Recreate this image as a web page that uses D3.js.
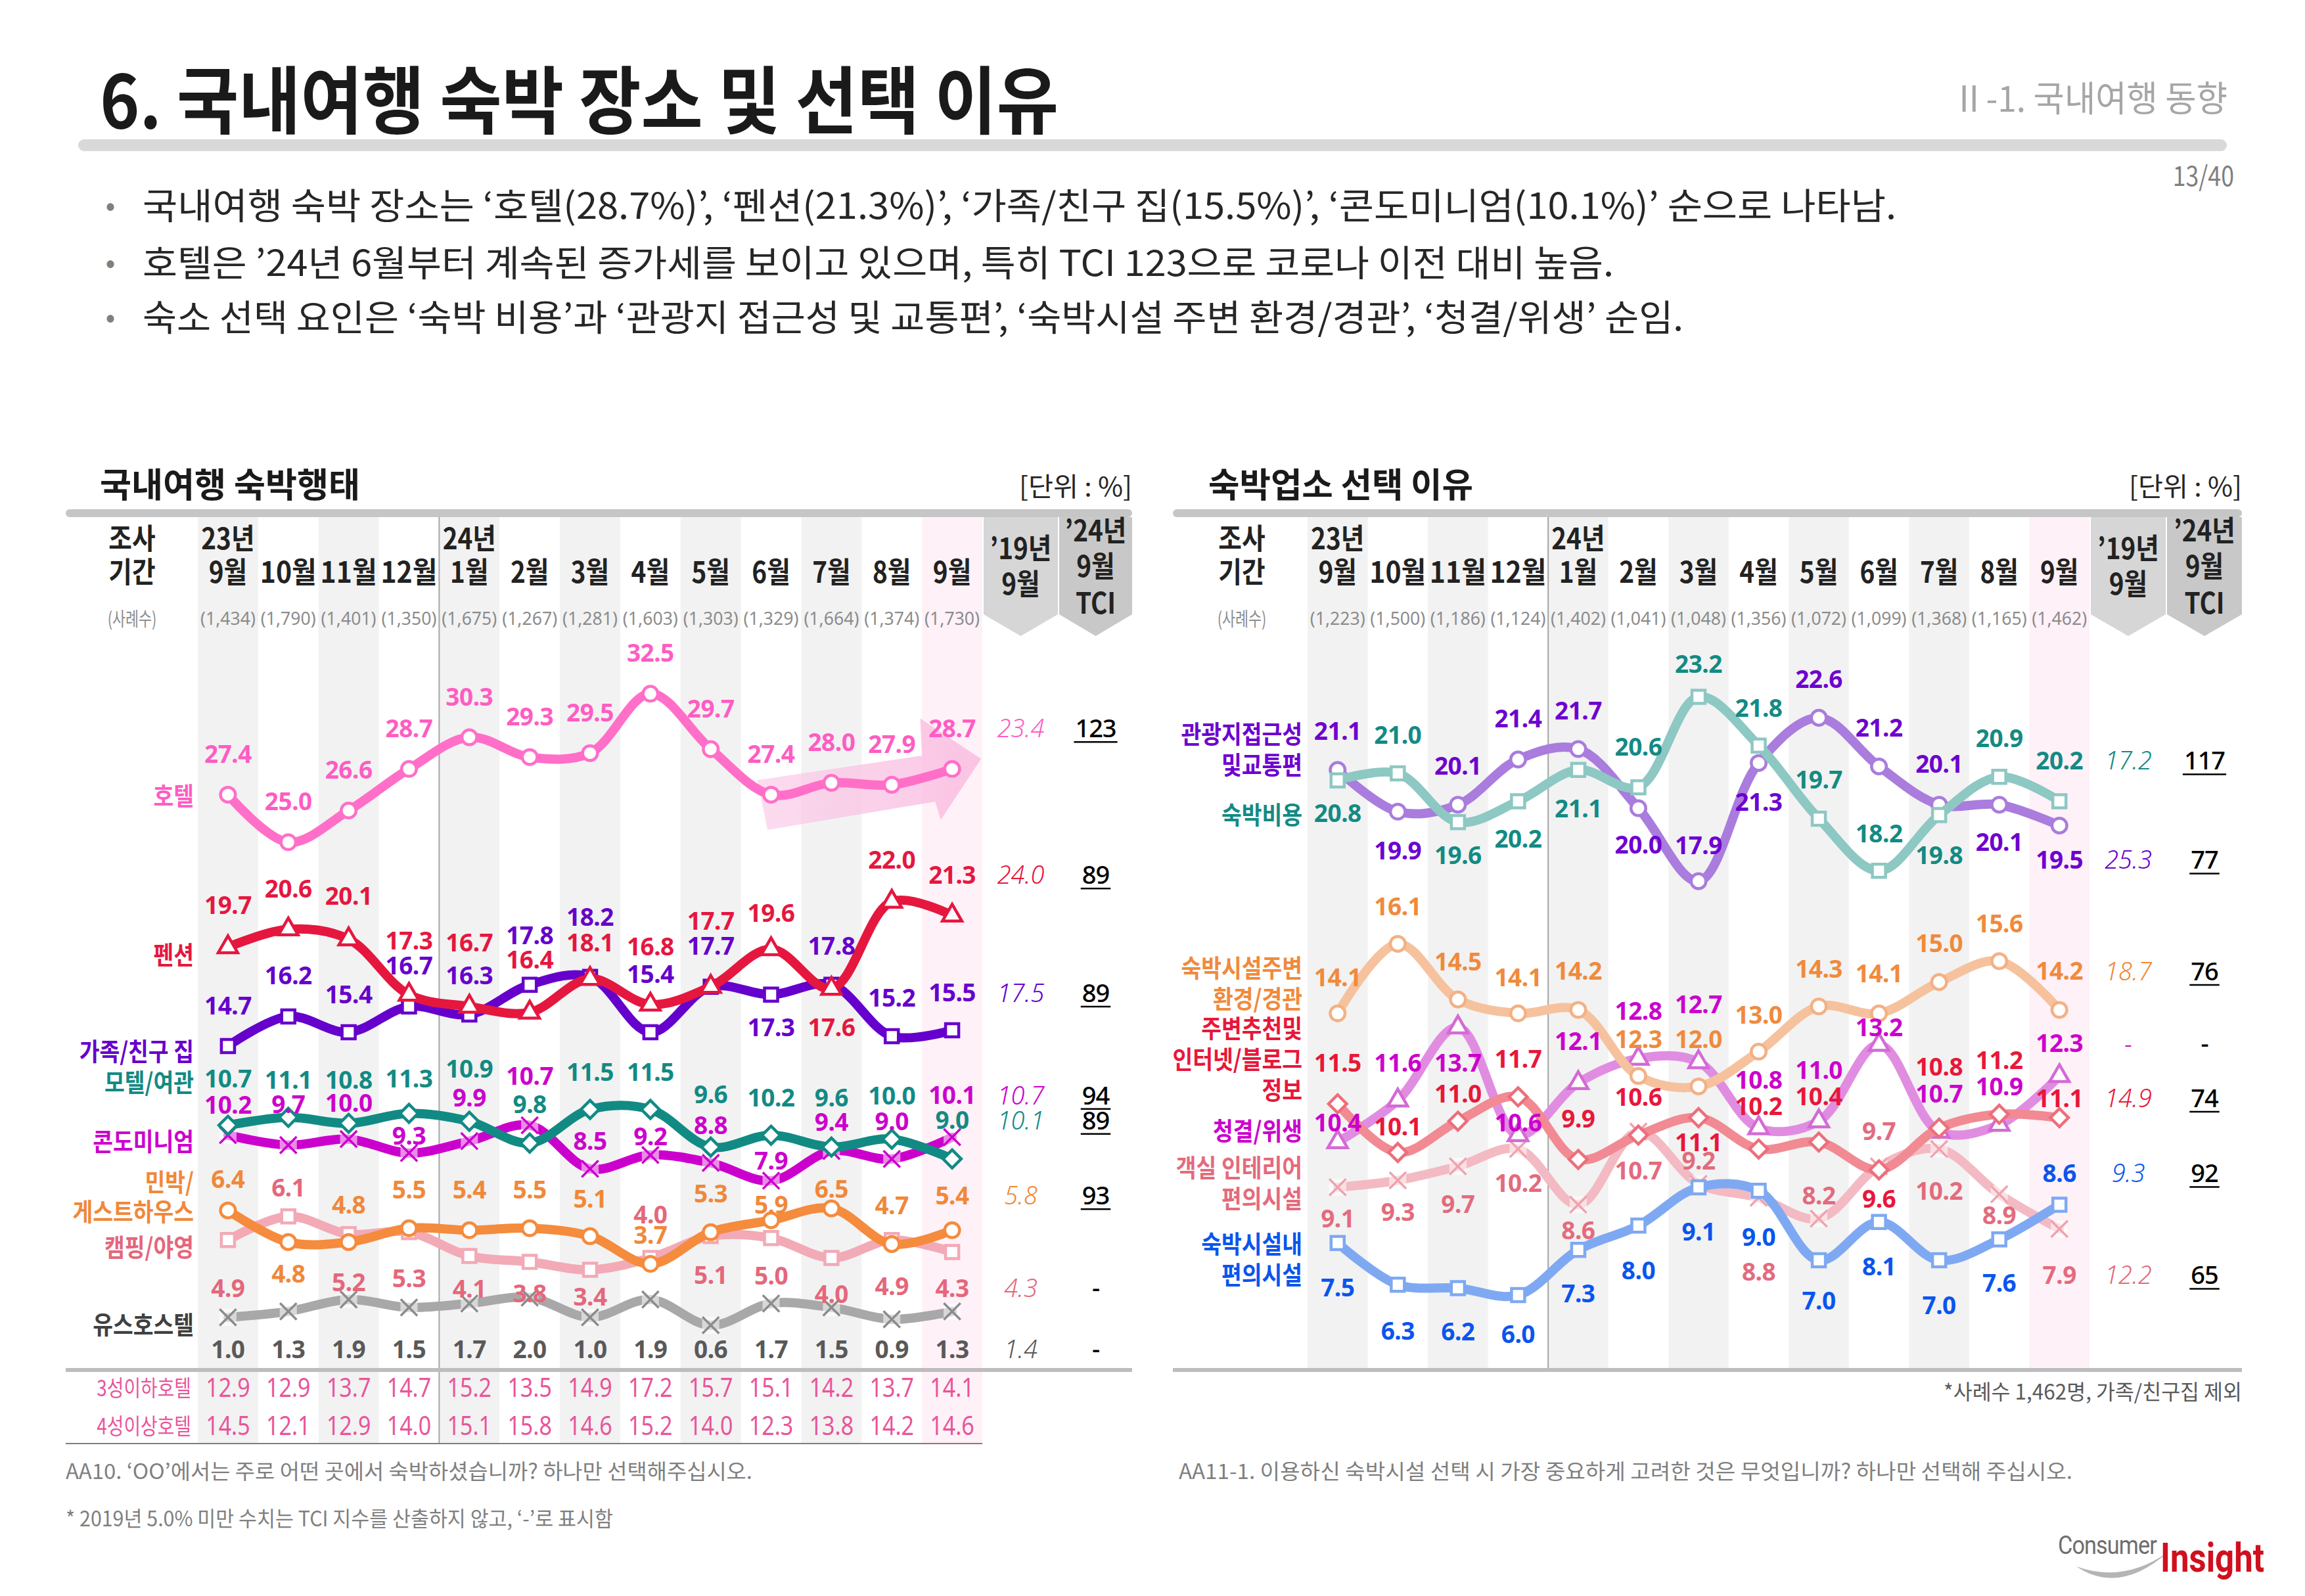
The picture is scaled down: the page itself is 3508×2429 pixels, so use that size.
<!DOCTYPE html>
<html><head><meta charset="utf-8">
<script src="https://cdn.jsdelivr.net/npm/d3@7"></script>
<style>html,body{margin:0;padding:0;background:#fff}svg{display:block}</style>
</head><body>
<svg id="c" width="3508" height="2429"></svg>
<script>
// ---------------- DATA ----------------
const months = ["9월","10월","11월","12월","1월","2월","3월","4월","5월","6월","7월","8월","9월"];
const yearLabels = ["23년","24년"];
const yearIdx = [0,4];
const nLeft  = ["(1,434)","(1,790)","(1,401)","(1,350)","(1,675)","(1,267)","(1,281)","(1,603)","(1,303)","(1,329)","(1,664)","(1,374)","(1,730)"];
const nRight = ["(1,223)","(1,500)","(1,186)","(1,124)","(1,402)","(1,041)","(1,048)","(1,356)","(1,072)","(1,099)","(1,368)","(1,165)","(1,462)"];

// 국내여행 숙박행태 (%)
const hotel    = [27.4,25.0,26.6,28.7,30.3,29.3,29.5,32.5,29.7,27.4,28.0,27.9,28.7];
const pension  = [19.7,20.6,20.1,17.3,16.7,16.4,18.1,16.8,17.7,19.6,17.6,22.0,21.3];
const family   = [14.7,16.2,15.4,16.7,16.3,17.8,18.2,15.4,17.7,17.3,17.8,15.2,15.5];
const motel    = [10.7,11.1,10.8,11.3,10.9,9.8,11.5,11.5,9.6,10.2,9.6,10.0,9.0];
const condo    = [10.2,9.7,10.0,9.3,9.9,10.7,8.5,9.2,8.8,7.9,9.4,9.0,10.1];
const minbak   = [6.4,4.8,4.8,5.5,5.4,5.5,5.1,3.7,5.3,5.9,6.5,4.7,5.4];
const camping  = [4.9,6.1,5.2,5.3,4.1,3.8,3.4,4.0,5.1,5.0,4.0,4.9,4.3];
const youth    = [1.0,1.3,1.9,1.5,1.7,2.0,1.0,1.9,0.6,1.7,1.5,0.9,1.3];
const leftNames = ["호텔","펜션","가족/친구 집","모텔/여관","콘도미니엄","민박/\n게스트하우스","캠핑/야영","유스호스텔"];
const left19  = ["23.4","24.0","17.5","10.1","10.7","5.8","4.3","1.4"];
const leftTCI = ["123","89","89","89","94","93","-","-"];
const hotel3  = [12.9,12.9,13.7,14.7,15.2,13.5,14.9,17.2,15.7,15.1,14.2,13.7,14.1];
const hotel4  = [14.5,12.1,12.9,14.0,15.1,15.8,14.6,15.2,14.0,12.3,13.8,14.2,14.6];
const hotelRows = ["3성이하호텔","4성이상호텔"];

// 숙박업소 선택 이유 (%)
const access   = [21.1,19.9,20.1,21.4,21.7,20.0,17.9,21.3,22.6,21.2,20.1,20.1,19.5];
const cost     = [20.8,21.0,19.6,20.2,21.1,20.6,23.2,21.8,19.7,18.2,19.8,20.9,20.2];
const scenery  = [14.1,16.1,14.5,14.1,14.2,12.3,12.0,13.0,14.3,14.1,15.0,15.6,14.2];
const recommend= [11.5,10.1,11.0,11.7,9.9,10.6,11.1,10.2,10.4,9.6,10.8,11.2,11.1];
const clean    = [10.4,11.6,13.7,10.6,12.1,12.8,12.7,10.8,11.0,13.2,10.7,10.9,12.3];
const interior = [9.1,9.3,9.7,10.2,8.6,10.7,9.2,8.8,8.2,9.7,10.2,8.9,7.9];
const amenity  = [7.5,6.3,6.2,6.0,7.3,8.0,9.1,9.0,7.0,8.1,7.0,7.6,8.6];
const rightNames = ["관광지접근성\n및교통편","숙박비용","숙박시설주변\n환경/경관","주변추천및\n인터넷/블로그\n정보","청결/위생","객실 인테리어\n편의시설","숙박시설내\n편의시설"];
const right19  = ["25.3","17.2","18.7","14.9","-","12.2","9.3"];
const rightTCI = ["77","117","76","74","-","65","92"];

// ---------------- LAYOUT / STYLE ----------------
const KR = '"Noto Sans CJK KR","Noto Sans",sans-serif';
const NUM = '"Noto Sans","Noto Sans CJK KR",sans-serif';
const svg = d3.select("#c");

function txt(g,x,y,s,o={}){
  const t=g.append("text").attr("x",x).attr("y",y).text(s)
    .attr("font-family",o.ff||KR).attr("font-size",o.fs||40).attr("font-weight",o.fw||400)
    .attr("fill",o.fill||"#222").attr("text-anchor",o.anchor||"start")
    .attr("dominant-baseline","central");
  if(o.italic) t.attr("font-style","italic");
  if(o.ls) t.attr("letter-spacing",o.ls);
  if(o.len){ t.attr("textLength",o.len).attr("lengthAdjust","spacingAndGlyphs"); }
  else if(o.cond){ const L=t.node().getComputedTextLength(); t.attr("textLength",L*o.cond).attr("lengthAdjust","spacingAndGlyphs"); }
  return t;
}

// ---- page header ----
txt(svg,152,146,"6. 국내여행 숙박 장소 및 선택 이유",{fs:112,fw:700,fill:"#1a1a1a",len:1459});
txt(svg,3390,146,"Ⅱ-1. 국내여행 동향",{fs:54,fill:"#A6A6A6",anchor:"end",len:419});
svg.append("rect").attr("x",119).attr("y",212).attr("width",3270).attr("height",18).attr("rx",9).attr("fill","#D9D9D9");
txt(svg,3400,264,"13/40",{fs:42,fill:"#7F7F7F",anchor:"end",cond:0.85});
const bullets = [
 ["국내여행 숙박 장소는 ‘호텔(28.7%)’, ‘펜션(21.3%)’, ‘가족/친구 집(15.5%)’, ‘콘도미니엄(10.1%)’ 순으로 나타남.",2669],
 ["호텔은 ’24년 6월부터 계속된 증가세를 보이고 있으며, 특히 TCI 123으로 코로나 이전 대비 높음.",2239],
 ["숙소 선택 요인은 ‘숙박 비용’과 ‘관광지 접근성 및 교통편’, ‘숙박시설 주변 환경/경관’, ‘청결/위생’ 순임.",2345]];
const bulletY=[309,396,479];
bullets.forEach((b,i)=>{
  txt(svg,168,bulletY[i],"•",{fs:44,fill:"#7F7F7F",anchor:"middle"});
  txt(svg,217,bulletY[i],b[0],{fs:55,fill:"#262626",len:b[1]});
});

// ---- marker helper ----
function drawMarker(g,type,x,y,color){
  if(type==="x"){
    g.append("rect").attr("x",x-13).attr("y",y-13).attr("width",26).attr("height",26)
      .attr("fill","#fff").attr("opacity",0.55);
    const sym = d3.symbolX ? d3.symbolX : null;
    if(sym){
      g.append("path").attr("d",d3.symbol().type(sym).size(420)()).attr("transform",`translate(${x},${y})`)
        .attr("fill","none").attr("stroke",color).attr("stroke-width",3.5);
    }
    return;
  }
  let s, rot=0, size=390;
  if(type==="circle"){s=d3.symbolCircle;size=400;}
  else if(type==="square"){s=d3.symbolSquare;size=400;}
  else if(type==="triangle"){s=d3.symbolTriangle;size=380;}
  else if(type==="diamond"){s=d3.symbolSquare;rot=45;size=380;}
  g.append("path").attr("d",d3.symbol().type(s).size(size)())
    .attr("transform",`translate(${x},${y}) rotate(${rot})`)
    .attr("fill","#fff").attr("stroke",color).attr("stroke-width",4.5);
}

// ---- panel ----
function panel(cfg){
  const g=svg.append("g");
  const x=d3.scaleBand().domain(d3.range(13)).range([cfg.b0,cfg.b1]);
  const bw=x.bandwidth();
  const xc=i=>x(i)+bw/2;
  const y=d3.scaleLinear().domain(cfg.dom).range(cfg.rng);
  const top=787;
  // shaded bands
  g.selectAll("rect.band").data(d3.range(13).filter(i=>i%2===0)).join("rect")
    .attr("x",i=>x(i)).attr("y",top).attr("width",bw).attr("height",cfg.shadeBottom-top)
    .attr("fill",i=>i===12?"#FFF1F8":"#F2F2F2");
  // '19 and TCI header pentagons
  [[cfg.c19,"#D6D6D6"],[cfg.cT,"#C8C8C8"]].forEach(([c,f])=>{
    g.append("path").attr("d",`M${c[0]},${top}H${c[1]}V935L${(c[0]+c[1])/2},968L${c[0]},935Z`).attr("fill",f);
  });
  // header bar
  g.append("rect").attr("x",cfg.bar0).attr("y",775).attr("width",cfg.bar1-cfg.bar0).attr("height",12).attr("rx",6).attr("fill","#C6C6C6");
  // title + unit
  txt(g,cfg.titleX,734,cfg.title,{fs:52,fw:700,fill:"#1a1a1a",len:cfg.titleLen});
  txt(g,cfg.bar1,738,"[단위 : %]",{fs:40,fill:"#262626",anchor:"end",len:172});
  // divider
  g.append("line").attr("x1",x(4)).attr("x2",x(4)).attr("y1",top).attr("y2",cfg.divBottom)
    .attr("stroke","#A6A6A6").attr("stroke-width",2);
  // header texts
  txt(g,cfg.lblX,817,"조사",{fs:44,fw:700,anchor:"middle",cond:0.88});
  txt(g,cfg.lblX,868,"기간",{fs:44,fw:700,anchor:"middle",cond:0.88});
  txt(g,cfg.lblX,940,"(사례수)",{fs:29,fill:"#8C8C8C",anchor:"middle",cond:0.75});
  yearLabels.forEach((s,k)=>txt(g,xc(yearIdx[k]),817,s,{fs:44,fw:700,anchor:"middle",cond:0.88}));
  months.forEach((m,i)=>{
    const o={fs:44,fw:700,anchor:"middle"};
    if(m.length>2) o.len=86; else o.cond=0.88;
    txt(g,xc(i),868,m,o);
  });
  cfg.n.forEach((s,i)=>txt(g,xc(i),940,s,{ff:NUM,fs:28,fill:"#8C8C8C",anchor:"middle",len:84}));
  const m19=(cfg.c19[0]+cfg.c19[1])/2, mT=(cfg.cT[0]+cfg.cT[1])/2;
  txt(g,m19,832,"’19년",{fs:44,fw:700,anchor:"middle",cond:0.88});
  txt(g,m19,886,"9월",{fs:44,fw:700,anchor:"middle",cond:0.88});
  txt(g,mT,805,"’24년",{fs:44,fw:700,anchor:"middle",cond:0.88});
  txt(g,mT,859,"9월",{fs:44,fw:700,anchor:"middle",cond:0.88});
  txt(g,mT,915,"TCI",{fs:44,fw:700,anchor:"middle",cond:0.88});
  // bottom line
  g.append("rect").attr("x",cfg.bar0).attr("y",cfg.lineY-3).attr("width",cfg.bar1-cfg.bar0).attr("height",6).attr("fill","#BDBDBD");

  if(cfg.before) cfg.before(g,x,xc,y);

  const line=d3.line().x((d,i)=>xc(i)).y(d=>y(d)).curve(d3.curveCatmullRom.alpha(0.5));
  const lg=g.append("g"), labg=g.append("g");
  cfg.series.forEach(s=>{
    lg.append("path").attr("d",line(s.vals)).attr("fill","none").attr("stroke",s.line)
      .attr("stroke-width",14).attr("stroke-linejoin","round").attr("stroke-linecap","round")
      .attr("opacity",s.op||1);
    s.vals.forEach((v,i)=>drawMarker(lg,s.mk,xc(i),y(v),s.mkc||s.line));
  });
  cfg.series.forEach(s=>{
    let lastY=0;
    s.vals.forEach((v,i)=>{
      const ly = s.row!==undefined ? s.row : y(v)-s.off[i];
      lastY=ly;
      txt(labg,xc(i),ly,v.toFixed(1),{ff:NUM,fs:37,fw:700,fill:s.lab,anchor:"middle",ls:-0.5});
    });
    // '19 value and TCI
    txt(labg,m19,lastY,s.v19,{ff:NUM,fs:38,fw:300,italic:true,fill:s.lab,anchor:"middle"});
    const t=txt(labg,mT,lastY,s.tci,{ff:NUM,fs:38,fw:500,fill:"#000",anchor:"middle",ls:-1});
    if(s.tci!=="-"){
      const L=t.node().getComputedTextLength();
      labg.append("line").attr("x1",mT-L/2-2).attr("x2",mT+L/2+2).attr("y1",lastY+22).attr("y2",lastY+22)
        .attr("stroke","#000").attr("stroke-width",2.5);
    }
    // series name
    s.name.split("\n").forEach((nm,k)=>txt(labg,cfg.nameX,s.nameY[k],nm,{fs:38,fw:700,fill:s.nameCol||s.lab,anchor:"end",cond:0.88}));
  });
  if(cfg.after) cfg.after(g,x,xc,y);
}

// ---------- LEFT PANEL ----------
const hotelArrow=[[8.77,28.14],[11.50,29.37],[11.47,31.26],[12.48,29.21],[11.81,26.12],[11.72,27.05],[8.94,25.62]];
panel({
  b0:301,b1:1495,c19:[1497,1610],cT:[1612,1723],bar0:100,bar1:1723,
  dom:[0,32.5],rng:[2035,2035-30.13*32.5],
  shadeBottom:2197,divBottom:2197,lineY:2085,
  title:"국내여행 숙박행태",titleX:152,titleLen:396,lblX:201,nameX:295,n:nLeft,
  before:(g,x,xc,y)=>{
    const grad=svg.append("defs").append("linearGradient").attr("id","ag").attr("x1","0").attr("x2","1");
    grad.append("stop").attr("offset","0").attr("stop-color","#FBD0EA");
    grad.append("stop").attr("offset","1").attr("stop-color","#F9B4DC");
    g.append("path").attr("d",d3.line().x(d=>xc(0)+d[0]*x.step()).y(d=>y(d[1]))(hotelArrow)+"Z")
      .attr("fill","url(#ag)").attr("opacity",0.75);
  },
  series:[
    {name:leftNames[7],nameY:[2013],vals:youth,row:2052,v19:left19[7],tci:leftTCI[7],line:"#A8A8A8",lab:"#595959",nameCol:"#404040",mk:"x",mkc:"#8C8C8C"},
    {name:leftNames[6],nameY:[1895],vals:camping,off:[-72,45,-72,-69,-49,-47,-40,67,-58,-56,-54,-69,-54],v19:left19[6],tci:leftTCI[6],line:"#F2AAB6",lab:"#E4677B",mk:"square"},
    {name:leftNames[5],nameY:[1796,1841],vals:minbak,off:[49,-47,58,60,63,60,58,45,60,25,31,60,54],v19:left19[5],tci:leftTCI[5],line:"#F58B3D",lab:"#F0883A",mk:"circle"},
    {name:leftNames[4],nameY:[1734],vals:condo,off:[47,63,56,27,67,76,43,29,58,31,45,58,65],v19:left19[4],tci:leftTCI[4],line:"#CC00CC",lab:"#CC00CC",mk:"x"},
    {name:leftNames[3],nameY:[1644],vals:motel,off:[72,58,67,54,81,60,58,58,81,58,76,67,60],v19:left19[3],tci:leftTCI[3],line:"#128A84",lab:"#128A84",mk:"diamond"},
    {name:leftNames[2],nameY:[1597],vals:family,off:[63,63,58,63,60,76,92,89,63,-49,60,60,58],v19:left19[2],tci:leftTCI[2],line:"#6600CC",lab:"#6600CC",mk:"square"},
    {name:leftNames[1],nameY:[1450],vals:pension,off:[65,63,67,83,98,81,56,89,101,56,-58,65,63],v19:left19[1],tci:leftTCI[1],line:"#E5173F",lab:"#E5173F",mk:"triangle"},
    {name:leftNames[0],nameY:[1208],vals:hotel,off:Array(13).fill(63),v19:left19[0],tci:leftTCI[0],line:"#FF6FC8",lab:"#FF5CC3",mk:"circle"}
  ],
  after:(g,x,xc,y)=>{
    const rowY=[2110,2168];
    [hotel3,hotel4].forEach((arr,r)=>{
      txt(g,291,rowY[r],hotelRows[r],{fs:34,fill:"#E8559A",anchor:"end",cond:0.82});
      arr.forEach((v,i)=>txt(g,xc(i),rowY[r],v.toFixed(1),{ff:NUM,fs:40,fill:"#E8559A",anchor:"middle",cond:0.85}));
    });
    g.append("line").attr("x1",100).attr("x2",1495).attr("y1",2197).attr("y2",2197).attr("stroke","#7F7F7F").attr("stroke-width",2);
  }
});

// ---------- RIGHT PANEL ----------
panel({
  b0:1990,b1:3180,c19:[3182,3296],cT:[3298,3412],bar0:1785,bar1:3412,
  dom:[6,23.2],rng:[2288.6-52.93*6,2288.6-52.93*23.2],
  shadeBottom:2085,divBottom:2085,lineY:2085,
  title:"숙박업소 선택 이유",titleX:1839,titleLen:403,lblX:1890,nameX:1982,n:nRight,
  series:[
    {name:rightNames[5],nameY:[1774,1821],vals:interior,off:[-47,-47,-56,-51,-38,-58,36,-112,36,55,-63,-31,-69],v19:right19[5],tci:rightTCI[5],line:"#F3BAC3",lab:"#E36B7D",mk:"x",mkc:"#EFA3AE"},
    {name:rightNames[4],nameY:[1718],vals:clean,off:[31,58,-53,20,65,74,89,74,79,27,59,59,51],v19:right19[4],tci:rightTCI[4],line:"#E08DE1",lab:"#CC00CC",mk:"triangle",mkc:"#D46AD6"},
    {name:rightNames[3],nameY:[1562,1609,1656],vals:recommend,off:[63,41,43,59,63,59,-36,66,71,-43,94,83,31],v19:right19[3],tci:rightTCI[3],line:"#F18A93",lab:"#E8173A",mk:"diamond",mkc:"#EC6F7B"},
    {name:rightNames[2],nameY:[1470,1517],vals:scenery,off:[56,58,59,56,60,57,73,57,58,62,60,58,60],v19:right19[2],tci:rightTCI[2],line:"#F6C29D",lab:"#F08A3C",mk:"circle",mkc:"#F3B185"},
    {name:rightNames[6],nameY:[1890,1937],vals:amenity,off:[-67,-69,-65,-58,-65,-67,-67,-69,-60,-67,-67,-65,49],v19:right19[6],tci:rightTCI[6],line:"#7EA9F2",lab:"#0A55EE",mk:"square"},
    {name:rightNames[0],nameY:[1114,1161],vals:access,off:[60,-58,60,63,60,-54,56,-58,60,60,63,-56,-51],v19:right19[0],tci:rightTCI[0],line:"#A97CDD",lab:"#6E00D0",mk:"circle"},
    {name:rightNames[1],nameY:[1237],vals:cost,off:[-49,60,-49,-56,-58,63,51,58,60,58,-60,60,63],v19:right19[1],tci:rightTCI[1],line:"#8DC8C3",lab:"#138A84",mk:"square"}
  ]
});

// ---- footnotes ----
txt(svg,100,2237,"AA10. ‘OO’에서는 주로 어떤 곳에서 숙박하셨습니까? 하나만 선택해주십시오.",{fs:32,fill:"#7F7F7F",len:1045});
txt(svg,100,2309,"* 2019년 5.0% 미만 수치는 TCI 지수를 산출하지 않고, ‘-’로 표시함",{fs:32,fill:"#7F7F7F",len:833});
txt(svg,1794,2237,"AA11-1. 이용하신 숙박시설 선택 시 가장 중요하게 고려한 것은 무엇입니까? 하나만 선택해 주십시오.",{fs:32,fill:"#7F7F7F",len:1360});
txt(svg,3412,2116,"*사례수 1,462명, 가족/친구집 제외",{fs:32,fill:"#595959",anchor:"end",len:454});

// ---- logo ----
svg.append("path").attr("d","M3160,2384 Q3225,2428 3300,2362 Q3232,2410 3160,2384Z").attr("fill","#B5B5B5");
txt(svg,3132,2352,"Consumer",{ff:"Roboto,sans-serif",fs:38,fill:"#6E6E6E",len:150,ls:-1});
txt(svg,3288,2370,"Insight",{ff:"Roboto,sans-serif",fs:62,fw:700,fill:"#D0101E",len:158});
</script>
</body></html>
